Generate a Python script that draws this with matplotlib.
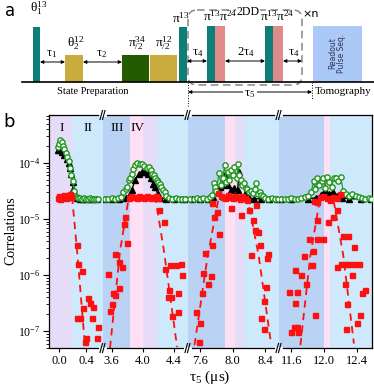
import numpy as np
import matplotlib.pyplot as plt
from matplotlib.patches import Rectangle, FancyBboxPatch

plt.rcParams['font.family'] = ['Liberation Serif', 'DejaVu Serif']
plt.rcParams['mathtext.fontset'] = 'custom'
plt.rcParams['mathtext.rm'] = 'Liberation Serif'
plt.rcParams['mathtext.it'] = 'Liberation Serif:italic'
plt.rcParams['mathtext.bf'] = 'Liberation Serif:bold'

# ---------------- data (tau_5 in us, correlations) ----------------
seg_xlim = [(-0.145, 0.64), (3.49, 4.58), (7.45, 8.57), (11.45, 12.58)]
seg_ticks = [[0.0, 0.4], [3.6, 4.0, 4.4], [7.6, 8.0, 8.4], [11.6, 12.0, 12.4]]

# background regions (start, end, colour key)
bands = [
    [(-0.145, 0.19, 'P'), (0.19, 0.64, 'L')],
    [(3.49, 3.84, 'D'), (3.84, 4.0, 'K'), (4.0, 4.18, 'P'), (4.18, 4.58, 'L')],
    [(7.45, 7.91, 'D'), (7.91, 8.03, 'K'), (8.03, 8.14, 'P'), (8.14, 8.57, 'L')],
    [(11.45, 12.0, 'D'), (12.0, 12.07, 'K'), (12.07, 12.58, 'L')],
]
band_col = {'P': '#e6dcf8', 'L': '#cfe9fc', 'D': '#bad2f3', 'K': '#fde0f4'}

# green open circles
g_t = [
    [-0.02, 0.0, 0.02, 0.04, 0.06, 0.08, 0.1, 0.12, 0.14, 0.16, 0.18, 0.2, 0.22, 0.24,
     0.26, 0.28, 0.3, 0.33, 0.36, 0.39, 0.42, 0.45, 0.48, 0.51, 0.54, 0.57],
    [3.52, 3.56, 3.6, 3.64, 3.68, 3.72, 3.75, 3.78, 3.8, 3.82, 3.84, 3.86, 3.88, 3.9, 3.93,
     3.96, 3.99, 4.02, 4.05, 4.08, 4.1, 4.12, 4.14, 4.16, 4.18, 4.2, 4.22, 4.24, 4.26, 4.28,
     4.3, 4.34, 4.38, 4.42, 4.46, 4.5, 4.54],
    [7.48, 7.52, 7.56, 7.6, 7.64, 7.68, 7.72, 7.75, 7.77, 7.78, 7.8, 7.83, 7.86, 7.88, 7.9,
     7.92, 7.94, 7.96, 7.98, 8.0, 8.02, 8.05, 8.07, 8.08, 8.1, 8.12, 8.14, 8.16, 8.18, 8.2,
     8.22, 8.25, 8.27, 8.29, 8.31, 8.33, 8.35, 8.37, 8.4, 8.44, 8.48, 8.52, 8.56],
    [11.48, 11.52, 11.56, 11.6, 11.64, 11.68, 11.72, 11.76, 11.8, 11.84, 11.87, 11.89, 11.91,
     11.94, 11.97, 11.99, 12.01, 12.03, 12.06, 12.09, 12.12, 12.14, 12.17, 12.2, 12.23, 12.26,
     12.3, 12.34, 12.38, 12.42, 12.46, 12.5, 12.54, 12.57],
]
g_v = [
    [1.9e-4, 2.2e-4, 2.6e-4, 2.4e-4, 2.0e-4, 1.8e-4, 1.5e-4, 1.3e-4, 1.1e-4, 8.0e-5, 6.0e-5,
     4.8e-5, 3.2e-5, 2.6e-5, 2.5e-5, 2.4e-5, 2.4e-5, 2.3e-5, 2.4e-5, 2.3e-5, 2.3e-5, 2.4e-5,
     2.3e-5, 2.3e-5, 2.3e-5, 2.3e-5],
    [2.3e-5, 2.3e-5, 2.4e-5, 2.3e-5, 2.4e-5, 2.5e-5, 3.1e-5, 3.4e-5, 3.7e-5, 5.0e-5, 5.5e-5,
     6.5e-5, 7.7e-5, 9.2e-5, 1.0e-4, 9.5e-5, 9.8e-5, 9.0e-5, 8.0e-5, 8.5e-5, 7.5e-5, 6.5e-5,
     6.0e-5, 5.4e-5, 5.0e-5, 4.6e-5, 4.2e-5, 3.8e-5, 3.3e-5, 3.0e-5, 2.6e-5, 2.4e-5, 2.3e-5,
     2.4e-5, 2.3e-5, 2.3e-5, 2.3e-5],
    [2.3e-5, 2.3e-5, 2.4e-5, 2.3e-5, 2.4e-5, 2.3e-5, 2.5e-5, 2.7e-5, 4.4e-5, 3.8e-5, 3.2e-5,
     6.6e-5, 4.0e-5, 5.5e-5, 9.2e-5, 4.5e-5, 6.8e-5, 5.0e-5, 7.5e-5, 6.0e-5, 8.6e-5, 5.5e-5,
     9.6e-5, 6.2e-5, 5.0e-5, 4.0e-5, 4.4e-5, 3.6e-5, 3.5e-5, 3.0e-5, 3.2e-5, 2.9e-5, 3.4e-5,
     4.4e-5, 2.8e-5, 3.1e-5, 2.7e-5, 2.6e-5, 2.4e-5, 2.3e-5, 2.4e-5, 2.3e-5, 2.3e-5],
    [2.3e-5, 2.3e-5, 2.3e-5, 2.4e-5, 2.3e-5, 2.3e-5, 2.4e-5, 2.5e-5, 2.6e-5, 3.0e-5, 4.7e-5,
     3.4e-5, 5.4e-5, 4.0e-5, 4.8e-5, 5.4e-5, 3.6e-5, 5.6e-5, 4.5e-5, 3.8e-5, 5.5e-5, 5.3e-5,
     4.7e-5, 5.6e-5, 3.2e-5, 2.8e-5, 2.6e-5, 2.8e-5, 2.6e-5, 2.5e-5, 2.4e-5, 2.3e-5, 2.4e-5,
     2.3e-5],
]

# black triangles
k_t = [
    [-0.02, 0.0, 0.02, 0.05, 0.08, 0.11, 0.14, 0.16, 0.18, 0.2, 0.21, 0.23, 0.26, 0.3, 0.35,
     0.4, 0.45, 0.5, 0.55],
    [3.52, 3.6, 3.7, 3.78, 3.82, 3.86, 3.9, 3.95, 3.99, 4.03, 4.07, 4.1, 4.13, 4.16, 4.19,
     4.22, 4.3, 4.4, 4.5, 4.55],
    [7.5, 7.6, 7.7, 7.76, 7.8, 7.84, 7.87, 7.9, 7.94, 7.98, 8.02, 8.06, 8.08, 8.12, 8.16, 8.2,
     8.26, 8.35, 8.45, 8.55],
    [11.48, 11.6, 11.8, 11.9, 11.96, 12.01, 12.06, 12.11, 12.16, 12.22, 12.3, 12.45, 12.57],
]
k_v = [
    [1.7e-4, 1.8e-4, 1.7e-4, 1.6e-4, 1.4e-4, 1.2e-4, 1.0e-4, 8.0e-5, 6.5e-5, 4.5e-5, 3.5e-5,
     2.8e-5, 2.4e-5, 2.3e-5, 2.3e-5, 2.3e-5, 2.3e-5, 2.3e-5, 2.3e-5],
    [2.3e-5, 2.3e-5, 2.3e-5, 2.4e-5, 2.6e-5, 3.3e-5, 5.0e-5, 6.5e-5, 7.0e-5, 6.8e-5, 6.5e-5,
     5.5e-5, 4.2e-5, 3.8e-5, 2.8e-5, 2.4e-5, 2.3e-5, 2.3e-5, 2.3e-5, 2.3e-5],
    [2.3e-5, 2.3e-5, 2.3e-5, 2.5e-5, 3.0e-5, 3.8e-5, 4.0e-5, 6.1e-5, 4.0e-5, 3.3e-5, 3.6e-5,
     3.3e-5, 7.0e-5, 4.5e-5, 3.0e-5, 2.4e-5, 2.3e-5, 2.3e-5, 2.3e-5, 2.3e-5],
    [2.3e-5, 2.3e-5, 2.3e-5, 2.4e-5, 2.7e-5, 3.3e-5, 2.8e-5, 3.1e-5, 2.6e-5, 2.4e-5, 2.3e-5,
     2.3e-5, 2.3e-5],
]

# red squares
r_t = [
    [-0.02, 0.0, 0.02, 0.04, 0.07, 0.1, 0.13, 0.16, 0.18, 0.26, 0.28, 0.33, 0.35, 0.26, 0.3,
     0.42, 0.45, 0.5, 0.48, 0.57, 0.55, 0.39, 0.38],
    [3.82, 3.85, 3.88, 3.92, 3.95, 3.98, 4.02, 4.05, 4.08, 4.11, 4.14, 4.17, 4.2,
     3.77, 3.76, 3.8, 3.65, 4.21, 4.27, 3.56, 3.7, 3.73, 3.62, 3.64, 3.6, 3.58, 3.69,
     4.29, 4.35, 4.42, 4.49, 4.5, 4.34, 4.32, 4.36, 4.37, 4.45, 4.45],
    [7.82, 7.85, 7.88, 7.91, 7.94, 7.97, 8.0, 8.03, 8.06, 8.09, 8.12, 8.15, 8.18,
     7.75, 7.81, 7.77, 8.1, 7.98, 8.2, 8.29, 8.25, 8.27, 8.31, 8.33, 7.83, 7.75, 7.66, 8.23,
     7.64, 7.73, 7.69, 7.62, 7.55, 7.6, 7.59, 8.41, 8.39, 8.35, 8.39, 8.44, 8.42],
    [11.87, 11.91, 11.95, 11.99, 12.03, 12.07, 12.11, 12.15, 12.19,
     11.91, 12.05, 12.11, 12.15, 11.99, 11.91, 11.81, 12.23, 12.29, 12.36, 11.75, 11.86,
     11.65, 11.72, 11.85, 11.78, 11.57, 11.67, 11.64, 11.89, 11.63, 11.67, 11.6, 11.68,
     12.15, 12.2, 12.25, 12.3, 12.36, 12.42, 12.34, 12.25, 12.49, 12.46, 12.28, 12.44, 12.4,
     12.26],
]
r_v = [
    [2.4e-5, 2.6e-5, 2.3e-5, 2.5e-5, 2.7e-5, 2.4e-5, 2.5e-5, 2.8e-5, 2.5e-5, 3.5e-6, 1.6e-6,
     1.2e-6, 2.6e-7, 1.7e-7, 1.75e-7, 3.9e-7, 3.2e-7, 2.7e-7, 1.7e-7, 1.2e-7, 7.4e-8, 7.6e-8,
     6.3e-8],
    [2.4e-5, 2.6e-5, 2.5e-5, 2.4e-5, 2.6e-5, 2.5e-5, 2.4e-5, 2.6e-5, 2.5e-5, 2.4e-5, 2.5e-5,
     2.6e-5, 2.4e-5,
     1.1e-5, 8.0e-6, 3.7e-6, 2.4e-6, 1.45e-5, 8.9e-6, 1.05e-6, 1.7e-6, 1.4e-6, 4.8e-7, 4.4e-7,
     3.1e-7, 2.3e-7, 6.0e-7, 1.3e-6, 1.5e-6, 1.5e-6, 1.6e-6, 1.0e-6, 5.4e-7, 4.0e-7, 4.0e-7,
     1.9e-7, 4.7e-7, 2.2e-7],
    [2.9e-5, 2.6e-5, 2.5e-5, 2.4e-5, 2.7e-5, 2.5e-5, 2.4e-5, 2.6e-5, 2.5e-5, 2.3e-5, 2.6e-5,
     2.4e-5, 2.2e-5,
     1.95e-5, 1.35e-5, 1.1e-5, 1.17e-5, 1.55e-5, 1.48e-5, 1.8e-5, 9.5e-6, 6.3e-6, 5.9e-6,
     3.5e-6, 5.5e-6, 3.5e-6, 2.5e-6, 2.3e-6, 1.07e-6, 9.5e-7, 6.9e-7, 4.7e-7, 2.2e-7, 1.4e-7,
     6.5e-8, 6.2e-7, 3.5e-7, 1.7e-7, 1.1e-7, 2.4e-6, 2.0e-6],
    [2.1e-5, 2.0e-5, 2.5e-5, 2.6e-5, 2.4e-5, 2.2e-5, 2.5e-5, 2.4e-5, 2.8e-5,
     9.5e-6, 8.9e-6, 1.1e-5, 1.45e-5, 4.5e-6, 4.4e-6, 4.5e-6, 4.9e-6, 5.0e-6, 3.2e-6, 2.2e-6,
     2.7e-6, 1.23e-6, 1.02e-6, 1.5e-6, 7.0e-7, 5.0e-7, 4.9e-7, 3.2e-7, 1.95e-7, 1.2e-7,
     1.2e-7, 9.5e-8, 9.5e-8, 1.4e-6, 1.6e-6, 1.6e-6, 1.55e-6, 1.6e-6, 1.55e-6, 1.0e-6,
     7.0e-7, 5.5e-7, 4.7e-7, 3.0e-7, 1.95e-7, 1.4e-7, 1.07e-7],
]

# red dashed guide lines
d_t = [
    [0.19, 0.27, 0.38],
    [3.58, 3.71, 3.82, 4.16, 4.27, 4.44],
    [7.53, 7.69, 7.83, 8.18, 8.32, 8.47],
    [11.71, 11.83, 11.95, 12.11, 12.23, 12.36],
]
d_v = [
    [2.5e-5, 2.2e-6, 5.0e-8],
    [5.0e-8, 2.8e-6, 2.4e-5, 2.5e-5, 2.8e-6, 5.2e-8],
    [5.6e-8, 2.1e-6, 2.5e-5, 2.5e-5, 2.2e-6, 6.3e-8],
    [5.6e-8, 2.2e-6, 2.4e-5, 2.3e-5, 2.3e-6, 6.0e-8],
]

region_labels = ['I', 'II', 'III', 'IV']

# ---------------- figure ----------------
W, H = 374, 388
fig = plt.figure(figsize=(W / 100, H / 100), dpi=100)


def fbox(x0, x1, y0, y1):
    return [x0 / W, 1 - y1 / H, (x1 - x0) / W, (y1 - y0) / H]


edges = [49, 103, 188, 279, 372]
top, bot = 115, 348

for i in range(4):
    ax = fig.add_axes(fbox(edges[i], edges[i + 1], top, bot))
    for lo, hi, c in bands[i]:
        ax.axvspan(lo, hi, color=band_col[c], lw=0, zorder=0)
    ax.plot(k_t[i], k_v[i], '-^', color='k', ms=4.2, lw=1.0, zorder=2)
    ax.plot(g_t[i], g_v[i], '-o', color='#1c961c', mfc='white', mec='#1c961c',
            ms=3.8, mew=1.0, lw=0.8, zorder=3)
    ax.plot(d_t[i], d_v[i], '--', color='#ff1010', lw=1.3, dashes=(4, 3), zorder=4)
    ax.plot(r_t[i], r_v[i], 's', color='#ff1010', ms=3.6, lw=0, zorder=5)
    ax.set_yscale('log')
    ax.set_ylim(5e-8, 7.2e-4)
    ax.set_xlim(*seg_xlim[i])
    ax.set_xticks(seg_ticks[i])
    ax.set_xticklabels([f'{v:.1f}' for v in seg_ticks[i]])
    ax.tick_params(axis='x', direction='out', length=3, labelsize=9, pad=2)
    ax.tick_params(axis='y', which='both', direction='out', labelsize=8.5, pad=2)
    ax.spines['left'].set_visible(i == 0)
    ax.spines['right'].set_visible(i == 3)
    for s in ax.spines.values():
        s.set_linewidth(0.9)
    if i > 0:
        ax.tick_params(axis='y', which='both', left=False, labelleft=False)
    else:
        ax.set_yticks([1e-7, 1e-6, 1e-5, 1e-4])
        ax.tick_params(axis='y', which='major', length=4)
        ax.tick_params(axis='y', which='minor', length=2)

# ---------------- overlay in pixel coordinates ----------------
ov = fig.add_axes([0, 0, 1, 1], zorder=10)
ov.set_xlim(0, W)
ov.set_ylim(H, 0)
ov.axis('off')
ov.patch.set_alpha(0)

# axis breaks
for x in edges[1:4]:
    for y in (top, bot):
        ov.plot([x - 2.5, x + 2.5], [y, y], color='white', lw=2, zorder=1)
        ov.plot([x - 3, x - 0.5], [y + 4.5, y - 4.5], color='k', lw=0.8, zorder=2)
        ov.plot([x - 0.5, x + 2], [y + 4.5, y - 4.5], color='k', lw=0.8, zorder=2)

for lab, x in zip(region_labels, [62, 88, 117, 138]):
    ov.text(x, 128, lab, ha='center', va='center', fontsize=9.5)

ov.text(11, 231, 'Correlations', rotation=90, ha='center', va='center', fontsize=10)
ov.text(210, 377, 'τ$_5$ (μs)', ha='center', va='center', fontsize=11)
ov.text(9, 122, 'b', ha='center', va='center', fontsize=13, family='DejaVu Sans')
ov.text(10, 11, 'a', ha='center', va='center', fontsize=12, family='DejaVu Sans')

# ---------------- panel a: pulse sequence ----------------
teal, gold, dgreen, pink, blue = '#0e7f78', '#c9ab3e', '#245a00', '#e08a8a', '#aac9f6'
base = 81.5
pulses = [(33, 40, 27, teal), (65, 83, 55, gold), (122, 149, 55, dgreen),
          (150, 177, 55, gold), (179, 187, 27, teal), (207, 215, 26, teal),
          (215, 225, 26, pink), (265, 273, 26, teal), (273, 283, 26, pink),
          (313, 362, 26, blue)]
for x0, x1, yt, c in pulses:
    ov.add_patch(Rectangle((x0, yt), x1 - x0, base - yt, facecolor=c, edgecolor='none'))

ov.plot([22, 374], [base, base], color='k', lw=1.2)

box = FancyBboxPatch((188, 10), 114, 75, boxstyle='round,pad=0,rounding_size=9',
                     facecolor='none', edgecolor='#888888', lw=1.1, ls=(0, (5, 3)))
ov.add_patch(box)

pulse_labels = [(39, 17, 'θ$_1^{13}$'), (76, 52, 'θ$_2^{12}$'),
                (137, 52, 'π$_{/2}^{34}$'), (164, 52, 'π$_{/2}^{12}$'),
                (181, 26, 'π$^{13}$'), (220, 24, 'π$^{13}$π$^{24}$'),
                (277, 24, 'π$^{13}$π$^{24}$')]
for x, y, s in pulse_labels:
    ov.text(x, y, s, ha='center', va='bottom', fontsize=9.5)
ov.text(248, 12, '2DD', ha='center', va='center', fontsize=8.5,
        bbox=dict(facecolor='white', edgecolor='none', pad=0.5))
ov.text(311, 14, '×n', ha='center', va='center', fontsize=8, family='DejaVu Sans')

arrows = [(40, 65, 62, 'τ$_1$', 52), (83, 122, 62, 'τ$_2$', 102),
          (187, 207, 61, 'τ$_4$', 198), (225, 265, 61, '2τ$_4$', 246),
          (283, 302, 61, 'τ$_4$', 294)]
for xa, xb, y, s, xt in arrows:
    ov.annotate('', xy=(xa, y), xytext=(xb, y),
                arrowprops=dict(arrowstyle='<|-|>', color='k', lw=0.7,
                                mutation_scale=5, shrinkA=0, shrinkB=0))
    ov.text(xt, y - 2, s, ha='center', va='bottom', fontsize=9)

ov.plot([188, 188], [base, 106], color='k', lw=0.7, ls=':')
ov.plot([312, 312], [base, 100], color='k', lw=0.7, ls=':')
ov.annotate('', xy=(188, 92), xytext=(312, 92),
            arrowprops=dict(arrowstyle='<|-|>', color='k', lw=0.7,
                            mutation_scale=5, shrinkA=0, shrinkB=0))
ov.text(250, 94, 'τ$_5$', ha='center', va='center', fontsize=9,
        bbox=dict(facecolor='white', edgecolor='none', pad=1))

ov.text(93, 92, 'State Preparation', ha='center', va='center', fontsize=7.5)
ov.text(343, 91, 'Tomography', ha='center', va='center', fontsize=8)
ov.text(337, 53, 'Readout\nPulse Seq.', rotation=90, ha='center', va='center',
        fontsize=5.5, family='DejaVu Sans', color='#333355', linespacing=1.0)

fig.savefig('out.png', dpi=100)
